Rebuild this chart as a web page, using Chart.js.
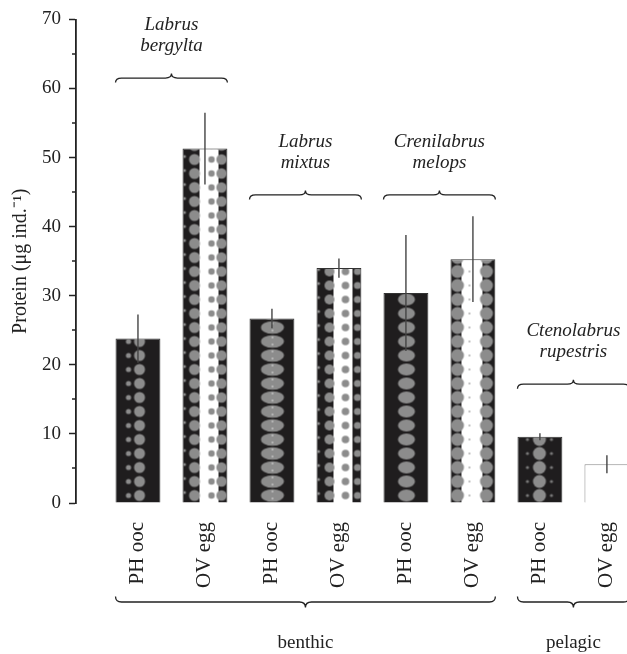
<!DOCTYPE html>
<html lang="en">
<head>
    <meta charset="UTF-8">
    <title>Protein content</title>
    <script src="https://cdn.jsdelivr.net/npm/chart.js"></script>
    <style>
        html, body { margin: 0; padding: 0; background: #fff; overflow: hidden; }
        .chart-box { width: 627px; height: 654px; position: relative; }
    </style>
</head>
<body>
    <div class="chart-box">
        <canvas id="chart"></canvas>
    </div>

    <script>
        // values
        const categories = ["PH ooc", "OV egg", "PH ooc", "OV egg", "PH ooc", "OV egg", "PH ooc", "OV egg"];
        const protein = [23.8, 51.3, 26.7, 34.0, 30.4, 35.3, 9.6, 5.6];
        const proteinErr = [3.5, 5.2, 1.4, 1.4, 8.4, 6.2, 0.5, 1.3];
        const species = [["Labrus", "bergylta"], ["Labrus", "mixtus"], ["Crenilabrus", "melops"], ["Ctenolabrus", "rupestris"]];
        const speciesBars = [[0, 1], [2, 3], [4, 5], [6, 7]];
        const habitats = ["benthic", "pelagic"];
        const habitatBars = [[0, 5], [6, 7]];
        const yTicks = [0, 10, 20, 30, 40, 50, 60, 70];

        const INK = '#1f1d1e';
        const DOT = '#8c8c8c';
        const SERIF = '"Liberation Serif", "Times New Roman", serif';

        // brace heights (in y units) for each species label
        const speciesLevels = [61.5, 44.6, 44.6, 17.2];

        // fill patterns, one per bar
        function makeTile(kind) {
            const c = document.createElement('canvas');
            c.width = 50; c.height = 14;
            const g = c.getContext('2d');
            const dot = (x, y, rx, ry) => {
                g.beginPath();
                g.ellipse(x, y, rx, ry || rx, 0, 0, Math.PI * 2);
                g.fill();
            };
            if (kind === 'white') {
                g.fillStyle = '#fff';
                g.fillRect(0, 0, 50, 14);
                return c;
            }
            g.fillStyle = INK;
            g.fillRect(0, 0, 50, 14);
            g.fillStyle = DOT;
            if (kind === 'ph-a') {
                dot(13, 7, 2.6);
                dot(24, 7, 5.5);
            } else if (kind === 'ov-a') {
                g.fillStyle = '#fff'; g.fillRect(17, 0, 19, 14);
                g.fillStyle = DOT;
                dot(12, 7, 5.5); dot(29, 7, 3.2); dot(39, 7, 5.2); dot(2, 4, 1.5);
            } else if (kind === 'ph-b') {
                dot(23, 7, 11.5, 6.3);
                g.fillStyle = '#ddd'; g.fillRect(22.5, 2, 1, 2); g.fillRect(22.5, 9, 1, 2);
            } else if (kind === 'ov-b') {
                g.fillStyle = '#fff'; g.fillRect(17, 0, 19, 14);
                g.fillStyle = DOT;
                dot(13, 7, 5); dot(29, 7, 3.8); dot(41, 7, 3.6); dot(2, 5, 1.6);
            } else if (kind === 'ph-c') {
                dot(23, 7, 8.5, 6);
            } else if (kind === 'ov-c') {
                g.fillStyle = '#fff'; g.fillRect(11, 0, 21, 14);
                g.fillStyle = DOT;
                dot(7, 7, 6.5); dot(36, 7, 6.5);
                g.fillStyle = '#aaa'; dot(19, 7, 1);
            } else if (kind === 'ph-d') {
                dot(22, 7, 6.5);
                g.fillStyle = '#777'; dot(10, 7, 1.6); dot(34, 7, 1.6);
            }
            return c;
        }

        const tileKinds = ['ph-a', 'ov-a', 'ph-b', 'ov-b', 'ph-c', 'ov-c', 'ph-d', 'white'];
        const ctx = document.getElementById('chart').getContext('2d');
        const patterns = tileKinds.map(k => ctx.createPattern(makeTile(k), 'repeat-y'));

        function drawBrace(g, x1, x2, y, h, s) {
            // s = 1: tip up, ends down ; s = -1: tip down, ends up
            const xm = (x1 + x2) / 2, r = 6;
            g.beginPath();
            g.moveTo(x1, y + s * h / 2);
            g.quadraticCurveTo(x1, y, x1 + r, y);
            g.lineTo(xm - r, y);
            g.quadraticCurveTo(xm, y, xm, y - s * h / 2);
            g.quadraticCurveTo(xm, y, xm + r, y);
            g.lineTo(x2 - r, y);
            g.quadraticCurveTo(x2, y, x2, y + s * h / 2);
            g.stroke();
        }

        const decorPlugin = {
            id: 'decor',
            beforeDatasetsDraw(chart) {
                const bars = chart.getDatasetMeta(0).data;
                bars.forEach((bar, i) => {
                    patterns[i].setTransform(new DOMMatrix().translate(bar.x - bar.width / 2, bar.base));
                });
            },
            afterDatasetsDraw(chart) {
                const g = chart.ctx;
                const y = chart.scales.y;
                const bars = chart.getDatasetMeta(0).data;
                g.save();
                g.strokeStyle = '#444';
                g.lineWidth = 1.4;
                bars.forEach((bar, i) => {
                    g.beginPath();
                    g.moveTo(bar.x, y.getPixelForValue(protein[i] + proteinErr[i]));
                    g.lineTo(bar.x, y.getPixelForValue(protein[i] - proteinErr[i]));
                    g.stroke();
                });
                g.restore();
            },
            afterDraw(chart) {
                const g = chart.ctx;
                const y = chart.scales.y;
                const area = chart.chartArea;
                const bars = chart.getDatasetMeta(0).data;
                const edges = (a, b) => [bars[a].x - bars[a].width / 2, bars[b].x + bars[b].width / 2];
                g.save();
                g.strokeStyle = '#222';
                g.fillStyle = '#222';
                g.lineWidth = 1.5;

                // minor ticks on the y axis
                for (let i = 0; i < yTicks.length - 1; i++) {
                    const py = Math.round(y.getPixelForValue((yTicks[i] + yTicks[i + 1]) / 2));
                    g.beginPath();
                    g.moveTo(area.left - 4, py);
                    g.lineTo(area.left, py);
                    g.stroke();
                }

                g.lineWidth = 1.3;
                g.textAlign = 'center';
                g.textBaseline = 'middle';

                // species braces above the bars
                g.font = 'italic 19px ' + SERIF;
                species.forEach((name, k) => {
                    const [x1, x2] = edges(speciesBars[k][0], speciesBars[k][1]);
                    const py = y.getPixelForValue(speciesLevels[k]);
                    drawBrace(g, x1, x2, py, 9, 1);
                    g.fillText(name[0], (x1 + x2) / 2, py - 53);
                    g.fillText(name[1], (x1 + x2) / 2, py - 32);
                });

                // habitat braces below the labels
                g.font = '19px ' + SERIF;
                habitats.forEach((name, k) => {
                    const [x1, x2] = edges(habitatBars[k][0], habitatBars[k][1]);
                    const py = area.bottom + 99;
                    drawBrace(g, x1, x2, py, 11, -1);
                    g.fillText(name, (x1 + x2) / 2, area.bottom + 140);
                });
                g.restore();
            }
        };

        new Chart(ctx, {
            type: 'bar',
            data: {
                datasets: [{
                    data: protein.map((v, i) => ({ x: i, y: v })),
                    backgroundColor: patterns,
                    borderColor: ['#333', '#333', '#333', '#333', '#333', '#333', '#333', '#8a8a8a'],
                    borderWidth: 1,
                    categoryPercentage: 0.67,
                    barPercentage: 1
                }]
            },
            options: {
                responsive: true,
                maintainAspectRatio: false,
                animation: false,
                layout: { padding: { top: 15, right: 0, bottom: 0, left: 0 } },
                plugins: {
                    legend: { display: false },
                    tooltip: { enabled: false }
                },
                scales: {
                    x: {
                        type: 'linear',
                        offset: false,
                        min: -0.925,
                        max: 7.3,
                        afterBuildTicks: scale => {
                            scale.ticks = categories.map((_, i) => ({ value: i }));
                        },
                        afterFit: scale => {
                            scale.height = 151;
                            scale.paddingLeft = 0;
                            scale.paddingRight = 0;
                        },
                        grid: { display: false },
                        border: { display: false },
                        ticks: {
                            autoSkip: false,
                            minRotation: 90,
                            maxRotation: 90,
                            padding: 11,
                            color: '#222',
                            font: { family: SERIF, size: 21 },
                            callback: (v, i) => categories[i]
                        }
                    },
                    y: {
                        min: 0,
                        max: 70,
                        afterFit: scale => { scale.width = 76; },
                        afterBuildTicks: scale => {
                            scale.ticks = yTicks.map(v => ({ value: v }));
                        },
                        grid: {
                            drawOnChartArea: false,
                            drawTicks: true,
                            tickLength: 7,
                            tickWidth: 1.5,
                            tickColor: '#222'
                        },
                        border: { display: true, color: '#222', width: 1.8 },
                        ticks: {
                            padding: 8,
                            color: '#222',
                            font: { family: SERIF, size: 19 }
                        },
                        title: {
                            display: true,
                            text: 'Protein (μg ind.⁻¹)',
                            color: '#222',
                            font: { family: SERIF, size: 20 },
                            padding: { top: 9, bottom: 0 }
                        }
                    }
                }
            },
            plugins: [decorPlugin]
        });
    </script>
</body>
</html>
